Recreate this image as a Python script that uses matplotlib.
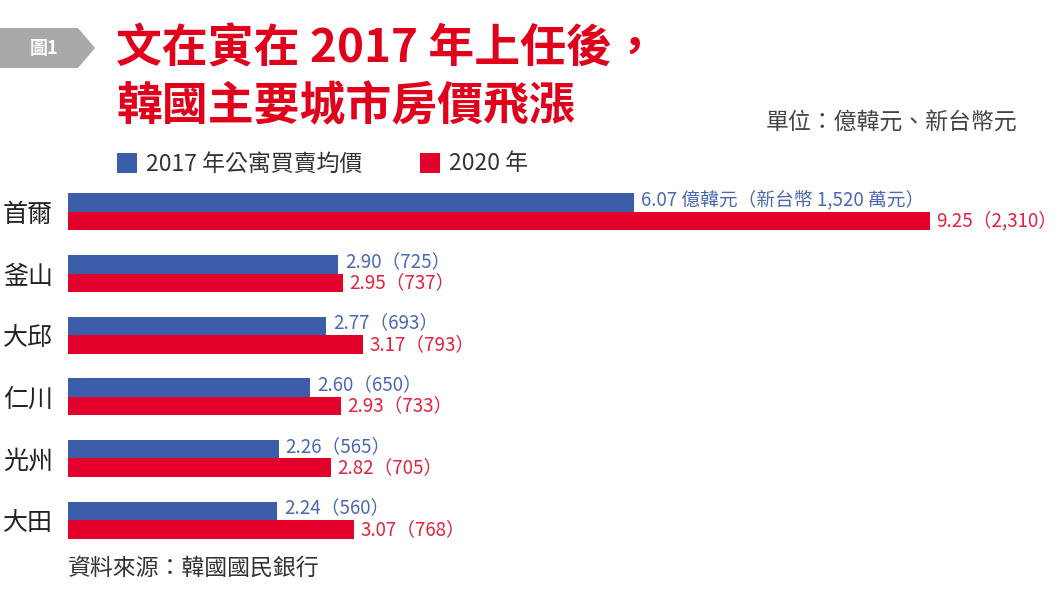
import matplotlib
matplotlib.use("Agg")
import matplotlib.pyplot as plt
from matplotlib.patches import Polygon

plt.rcParams['font.family'] = ['Noto Sans CJK TC', 'DejaVu Sans']

# ---- data ----
cities = ["首爾", "釜山", "大邱", "仁川", "光州", "大田"]
price_2017 = [6.07, 2.90, 2.77, 2.60, 2.26, 2.24]      # 億韓元
price_2020 = [9.25, 2.95, 3.17, 2.93, 2.82, 3.07]
ntd_2017 = [1520, 725, 693, 650, 565, 560]             # 萬新台幣
ntd_2020 = [2310, 737, 793, 733, 705, 768]
legend_labels = ["2017 年公寓買賣均價", "2020 年"]
title_lines = ["文在寅在 2017 年上任後，", "韓國主要城市房價飛漲"]
unit_text = "單位：億韓元、新台幣元"
source_text = "資料來源：韓國國民銀行"
badge_text = "圖1"

BLUE = "#3b5daa"
RED = "#e3002b"
BLUE_TXT = "#4a68b2"
RED_TXT = "#e2223f"

W, H = 1060, 596
fig = plt.figure(figsize=(W / 100, H / 100), dpi=100)
fig.patch.set_facecolor("white")

def fx(x):
    return x / W

def fy(y):
    return 1 - y / H

# axes geometry (pixels)
ax_left, ax_top, ax_bot = 68, 175, 557
ax = fig.add_axes([fx(ax_left), fy(ax_bot), 1 - fx(ax_left), (ax_bot - ax_top) / H])
ax.set_xlim(0, (W - ax_left) / 93.2)
ax.set_ylim(5.6, -0.6)
for s in ax.spines.values():
    s.set_visible(False)
ax.set_xticks([])

n = len(cities)
pos = list(range(n))
bh = 0.30
ax.barh([p - bh / 2 for p in pos], price_2017, height=bh, color=BLUE, linewidth=0)
ax.barh([p + bh / 2 for p in pos], price_2020, height=bh, color=RED, linewidth=0)

ax.set_yticks(pos)
ax.set_yticklabels(cities, fontsize=18, color="#222222", fontweight="medium")
ax.tick_params(axis="y", length=0, pad=11)

for i in range(n):
    if i == 0:
        lb = f"{price_2017[i]:.2f} 億韓元（新台幣 {ntd_2017[i]:,} 萬元）"
    else:
        lb = f"{price_2017[i]:.2f}（{ntd_2017[i]:,}）"
    lr = f"{price_2020[i]:.2f}（{ntd_2020[i]:,}）"
    ax.annotate(lb, xy=(price_2017[i], pos[i] - bh / 2), xytext=(5, 2),
                textcoords="offset points", va="center", ha="left",
                fontsize=13.5, color=BLUE_TXT, fontweight="medium")
    ax.annotate(lr, xy=(price_2020[i], pos[i] + bh / 2), xytext=(4.5, 0),
                textcoords="offset points", va="center", ha="left",
                fontsize=13.5, color=RED_TXT, fontweight="medium")

# badge
badge = Polygon([(fx(0), fy(28)), (fx(78), fy(28)), (fx(95), fy(48)),
                 (fx(78), fy(68)), (fx(0), fy(68))], closed=True,
                transform=fig.transFigure, facecolor="#a9a9a9", edgecolor="none")
fig.patches.append(badge)
fig.text(fx(44), fy(48), badge_text, fontsize=13, color="white",
         ha="center", va="center", fontweight="bold")

# title
fig.text(fx(116), fy(50), title_lines[0], fontsize=33, color="#e1001c",
         ha="left", va="center", fontweight="bold")
fig.text(fx(116), fy(107), title_lines[1], fontsize=33, color="#e1001c",
         ha="left", va="center", fontweight="bold")

# unit
fig.text(fx(1017), fy(122), unit_text, fontsize=16.5, color="#444444",
         ha="right", va="center", fontweight="medium")

# legend
fig.patches.append(plt.Rectangle((fx(117), fy(173)), 20 / W, 20 / H,
                                 transform=fig.transFigure, facecolor=BLUE, edgecolor="none"))
fig.text(fx(146), fy(164), legend_labels[0], fontsize=16.5, color="#333333",
         ha="left", va="center", fontweight="medium")
fig.patches.append(plt.Rectangle((fx(420), fy(173)), 20 / W, 20 / H,
                                 transform=fig.transFigure, facecolor=RED, edgecolor="none"))
fig.text(fx(449), fy(164), legend_labels[1], fontsize=16.5, color="#333333",
         ha="left", va="center", fontweight="medium")

# source
fig.text(fx(68), fy(568), source_text, fontsize=16.5, color="#333333",
         ha="left", va="center", fontweight="medium")

fig.savefig("out.png", dpi=100, facecolor="white")
